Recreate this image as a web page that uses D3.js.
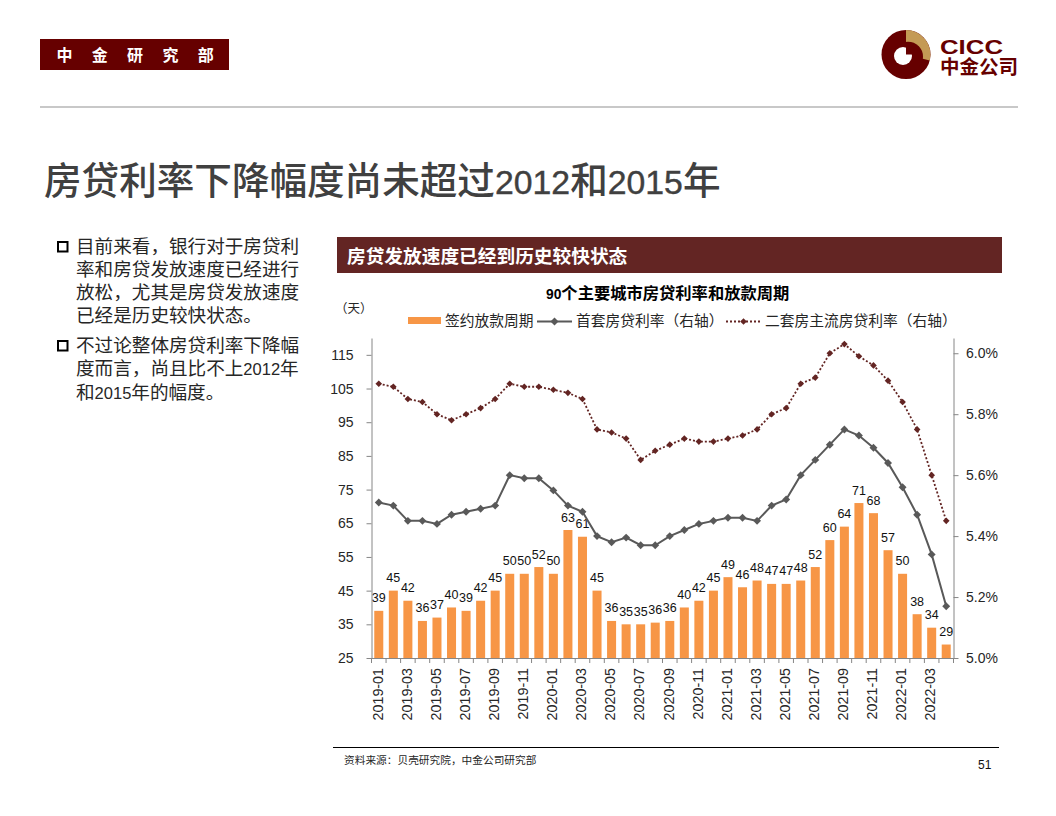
<!DOCTYPE html>
<html><head><meta charset="utf-8">
<script src="https://cdn.jsdelivr.net/npm/d3@7"></script>
<style>
html,body{margin:0;padding:0;background:#fff}
svg{display:block}
text{font-family:"Liberation Sans","Noto Sans CJK SC",sans-serif}
</style></head><body><div id="c"></div>
<script>
const months=["2019-01","2019-02","2019-03","2019-04","2019-05","2019-06","2019-07","2019-08","2019-09","2019-10","2019-11","2019-12","2020-01","2020-02","2020-03","2020-04","2020-05","2020-06","2020-07","2020-08","2020-09","2020-10","2020-11","2020-12","2021-01","2021-02","2021-03","2021-04","2021-05","2021-06","2021-07","2021-08","2021-09","2021-10","2021-11","2021-12","2022-01","2022-02","2022-03","2022-04"];
const cycleDays=[39,45,42,36,37,40,39,42,45,50,50,52,50,63,61,45,36,35,35,35.5,36,40,42,45,49,46,48,47,47,48,52,60,64,71,68,57,50,38,34,29];
const firstRate=[5.51,5.50,5.45,5.45,5.44,5.47,5.48,5.49,5.50,5.60,5.59,5.59,5.55,5.50,5.48,5.40,5.38,5.395,5.37,5.37,5.40,5.42,5.44,5.45,5.46,5.46,5.45,5.50,5.52,5.60,5.65,5.70,5.75,5.73,5.69,5.64,5.56,5.47,5.34,5.17];
const secondRate=[5.90,5.89,5.85,5.84,5.80,5.78,5.80,5.82,5.85,5.90,5.89,5.89,5.88,5.87,5.85,5.75,5.74,5.72,5.65,5.68,5.70,5.72,5.71,5.71,5.72,5.73,5.75,5.80,5.82,5.90,5.92,6.00,6.03,5.99,5.96,5.91,5.84,5.75,5.60,5.45];
const leftTicks=[25,35,45,55,65,75,85,95,105,115];
const rightTicks=[5.0,5.2,5.4,5.6,5.8,6.0];
const seriesNames=["签约放款周期","首套房贷利率（右轴）","二套房主流房贷利率（右轴）"];
const mainTitle="房贷利率下降幅度尚未超过2012和2015年";
const panelTitle="房贷发放速度已经到历史较快状态";
const chartTitle="90个主要城市房贷利率和放款周期";
const bullets=[["目前来看，银行对于房贷利","率和房贷发放速度已经进行","放松，尤其是房贷发放速度","已经是历史较快状态。"],["不过论整体房贷利率下降幅","度而言，尚且比不上2012年","和2015年的幅度。"]];

const ORANGE="#F79646",GREY="#595959",MAROON="#632523",AXIS="#868686",DARK="#660000";
const svg=d3.select("#c").append("svg").attr("width",1056).attr("height",816);
const P={l:371.5,r:953.5,t:338,b:658};
const x=d3.scaleBand().domain(months).range([P.l,P.r]).paddingInner(0.38).paddingOuter(0.19);
const xEdge=d3.scaleBand().domain(months).range([P.l,P.r]);
const yL=d3.scaleLinear().domain([25,120]).range([P.b,P.t]);
const yR=d3.scaleLinear().domain([5.0,6.05]).range([P.b,P.t]);
const cx=m=>x(m)+x.bandwidth()/2;
const markFirst=d3.symbol(d3.symbolDiamond2,40)();
const markSecond=d3.symbol(d3.symbolDiamond2,28)();

// mixed text: CJK and Latin digits get separate sizes, as in the reference
function mixed(sel,str,cjkSize,latinSize,latinAttrs){
  str.split(/(\d+)/).filter(s=>s).forEach(part=>{
    const isNum=/^\d+$/.test(part);
    const t=sel.append("tspan").attr("font-size",isNum?latinSize:cjkSize).text(part);
    if(isNum&&latinAttrs) Object.entries(latinAttrs).forEach(([k,v])=>t.attr(k,v));
  });
  return sel;
}

// page furniture
svg.append("rect").attr("x",40).attr("y",39).attr("width",189).attr("height",31).attr("fill",DARK);
svg.append("text").attr("x",56.5).attr("y",61).attr("fill","#fff").attr("font-size",16).attr("font-weight","bold").attr("letter-spacing",19.3).text("中金研究部");
svg.append("line").attr("x1",40).attr("x2",1018).attr("y1",107).attr("y2",107).attr("stroke","#c8c8c8").attr("stroke-width",2);

// logo
const logo=svg.append("g").attr("transform","translate(906,54.5)");
const disc=d3.arc().innerRadius(0).outerRadius(24.5);
logo.append("path").attr("d",disc({startAngle:0,endAngle:2*Math.PI})).attr("fill",DARK);
logo.append("path").attr("d",disc({startAngle:0,endAngle:Math.PI*0.58})).attr("fill","#C49A55");
logo.append("circle").attr("cx",2).attr("cy",2.2).attr("r",15).attr("fill",DARK);
logo.append("circle").attr("cx",-3).attr("cy",1.5).attr("r",9).attr("fill","#fff");
logo.append("path").attr("d",d3.arc().innerRadius(0).outerRadius(9)({startAngle:0,endAngle:Math.PI/2})).attr("fill",DARK);
svg.append("text").attr("x",940).attr("y",53.5).attr("font-size",20.5).attr("font-weight","bold").attr("fill",DARK).attr("textLength",63).attr("lengthAdjust","spacingAndGlyphs").text("CICC");
svg.append("text").attr("x",940).attr("y",74).attr("font-size",19.5).attr("font-weight","bold").attr("fill",DARK).text("中金公司");

mixed(svg.append("text").attr("x",44).attr("y",194).attr("font-weight","500").attr("fill","#404040"),mainTitle,37.6,33.8,{stroke:"#404040","stroke-width":0.4});

// bullets
const lineYs=[[253,276,299,322],[352,375,399]];
bullets.forEach((lines,i)=>{
  svg.append("rect").attr("x",58).attr("y",lineYs[i][0]-11).attr("width",9.5).attr("height",9.5).attr("fill","#fff").attr("stroke","#000").attr("stroke-width",2);
  lines.forEach((t,j)=>mixed(svg.append("text").attr("x",76).attr("y",lineYs[i][j]).attr("fill","#262626"),t,18.6,16.5));
});

// panel header
svg.append("rect").attr("x",337).attr("y",237).attr("width",665).attr("height",36).attr("fill",MAROON);
svg.append("text").attr("x",347).attr("y",262.5).attr("font-size",18.7).attr("font-weight","bold").attr("fill","#fff").text(panelTitle);
mixed(svg.append("text").attr("x",546).attr("y",298.5).attr("font-weight","bold").attr("fill","#000"),chartTitle,16.3,13.8);
svg.append("text").attr("x",335).attr("y",313).attr("font-size",12.5).attr("fill","#262626").text("（天）");

// legend
const leg=svg.append("g").attr("font-size",14.75).attr("fill","#262626");
leg.append("rect").attr("x",408).attr("y",317).attr("width",33).attr("height",7).attr("fill",ORANGE);
leg.append("text").attr("x",445).attr("y",326).text(seriesNames[0]);
leg.append("line").attr("x1",537).attr("x2",572).attr("y1",321.5).attr("y2",321.5).attr("stroke",GREY).attr("stroke-width",2);
leg.append("path").attr("d",markFirst).attr("transform","translate(554.5,321.5)").attr("fill",GREY);
leg.append("text").attr("x",576).attr("y",326).text(seriesNames[1]);
leg.append("line").attr("x1",726).attr("x2",761).attr("y1",321.5).attr("y2",321.5).attr("stroke",MAROON).attr("stroke-width",1.8).attr("stroke-dasharray","2 2");
leg.append("path").attr("d",markSecond).attr("transform","translate(743.5,321.5)").attr("fill",MAROON);
leg.append("text").attr("x",765).attr("y",326).text(seriesNames[2]);

// bars and labels
const plot=svg.append("g");
plot.selectAll("rect").data(months).join("rect")
  .attr("x",m=>x(m)).attr("width",x.bandwidth())
  .attr("y",(m,i)=>yL(cycleDays[i])).attr("height",(m,i)=>P.b-yL(cycleDays[i])).attr("fill",ORANGE);
plot.selectAll("text").data(months).join("text")
  .attr("x",cx).attr("y",(m,i)=>yL(cycleDays[i])-8.5).attr("text-anchor","middle")
  .attr("font-size",12.5).attr("fill","#111").text((m,i)=>d3.format(".0f")(cycleDays[i]));

// axes
function styleAxis(g){
  g.selectAll("path,line").attr("stroke",AXIS);
  g.selectAll("text").attr("fill","#262626").attr("font-family",'"Liberation Sans",sans-serif');
}
svg.append("g").attr("transform",`translate(${P.l},0)`)
  .call(d3.axisLeft(yL).tickValues(leftTicks).tickSize(5).tickSizeOuter(0).tickPadding(13))
  .attr("font-size",14).call(styleAxis);
svg.append("g").attr("transform",`translate(${P.r},0)`)
  .call(d3.axisRight(yR).tickValues(rightTicks).tickSize(5).tickSizeOuter(0).tickPadding(7.5).tickFormat(d=>d.toFixed(1)+"%"))
  .attr("font-size",14).call(styleAxis);
const xg=svg.append("g").attr("transform",`translate(0,${P.b})`)
  .call(d3.axisBottom(xEdge).tickSize(0).tickSizeOuter(0).tickFormat((m,i)=>i%2===0?m:""));
xg.selectAll("text").attr("font-size",14.3).attr("text-anchor","end").attr("dominant-baseline","middle")
  .attr("transform","translate(0,10) rotate(-90)").attr("x",0).attr("y",0).attr("dy",0);
xg.call(styleAxis);
xg.selectAll(".edge").data(d3.range(months.length+1)).join("line").attr("class","edge")
  .attr("x1",i=>P.l+i*xEdge.step()).attr("x2",i=>P.l+i*xEdge.step()).attr("y1",0).attr("y2",5).attr("stroke",AXIS);

// lines
const lineFirst=d3.line().x(cx).y((m,i)=>yR(firstRate[i]));
const lineSecond=d3.line().x(cx).y((m,i)=>yR(secondRate[i]));
svg.append("path").attr("d",lineSecond(months)).attr("fill","none").attr("stroke",MAROON).attr("stroke-width",1.8).attr("stroke-dasharray","2 2");
svg.append("path").attr("d",lineFirst(months)).attr("fill","none").attr("stroke",GREY).attr("stroke-width",2);
svg.append("g").selectAll("path").data(months).join("path").attr("d",markSecond).attr("fill",MAROON)
  .attr("transform",(m,i)=>`translate(${cx(m)},${yR(secondRate[i])})`);
svg.append("g").selectAll("path").data(months).join("path").attr("d",markFirst).attr("fill",GREY)
  .attr("transform",(m,i)=>`translate(${cx(m)},${yR(firstRate[i])})`);

// footer
svg.append("line").attr("x1",333).attr("x2",999).attr("y1",747.5).attr("y2",747.5).attr("stroke","#000").attr("stroke-width",1);
svg.append("text").attr("x",344).attr("y",764).attr("font-size",10.7).attr("fill","#262626").text("资料来源：贝壳研究院，中金公司研究部");
svg.append("text").attr("x",978).attr("y",769).attr("font-size",12).attr("fill","#111").text("51");
</script></body></html>
